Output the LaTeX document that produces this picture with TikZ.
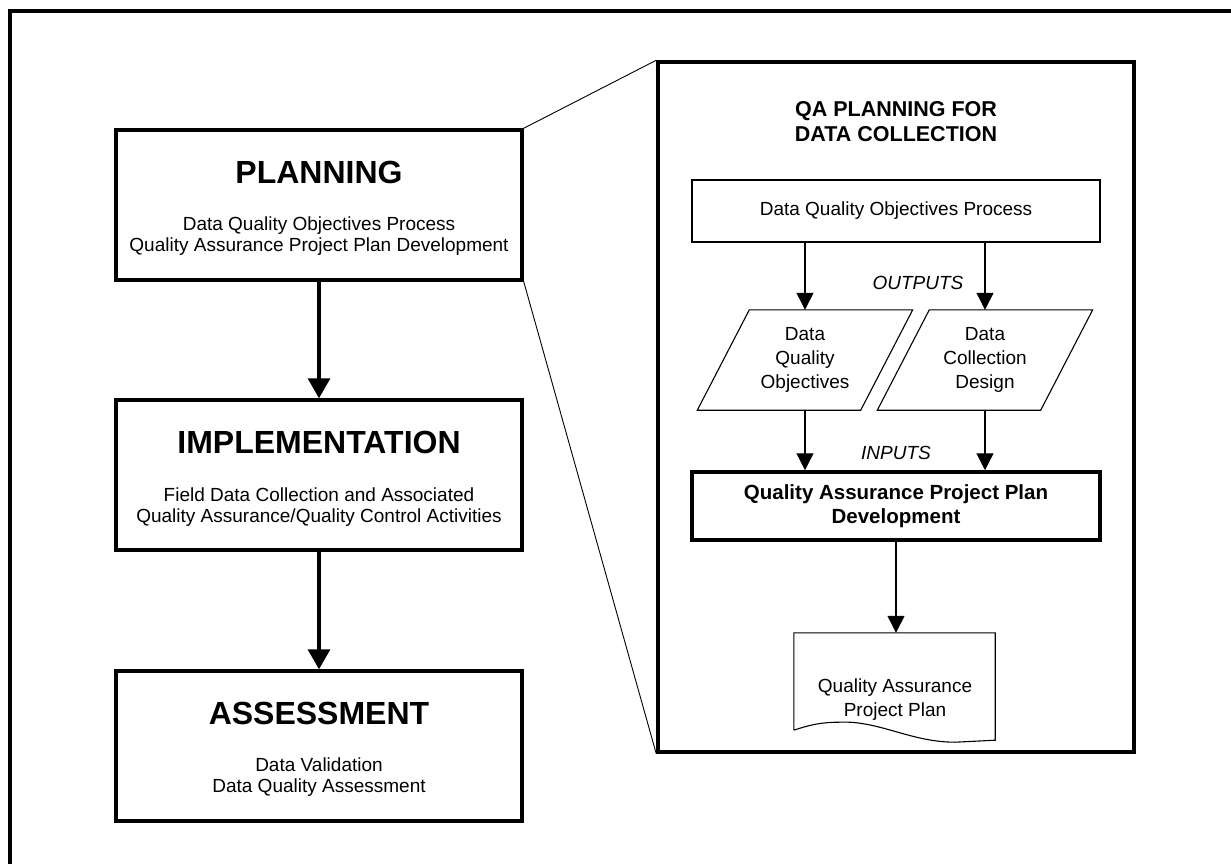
\documentclass[tikz,border=0pt]{standalone}
\usepackage{fontspec}
\setmainfont{Liberation Sans}
\usetikzlibrary{arrows.meta,calc}
\begin{document}
\begin{tikzpicture}[x=1pt,y=-1pt,
  phasebox/.style={draw, line width=3.5pt, minimum width=406pt, minimum height=150pt, inner sep=0pt},
  phasetitle/.style={font=\bfseries\fontsize{32}{36}\selectfont, inner sep=0pt},
  phasetext/.style={align=center, font=\fontsize{19}{20.5}\selectfont, inner sep=0pt},
  bigarrow/.style={line width=3.5pt, -{Triangle[width=22pt,length=20pt]}},
  thinarrow/.style={line width=1.2pt, -{Triangle[width=17pt,length=17pt]}},
  plaintext/.style={align=center, font=\fontsize{19}{24}\selectfont, inner sep=0pt},
  boldtext/.style={align=center, font=\bfseries\fontsize{20.5}{24}\selectfont, inner sep=0pt},
  titletext/.style={align=center, font=\bfseries\fontsize{21.5}{25}\selectfont, inner sep=0pt},
  tag/.style={font=\itshape\fontsize{19}{22}\selectfont, inner sep=0pt},
  zoomline/.style={line width=0.9pt},
  outline/.style={line width=1.1pt}
]
\useasboundingbox (0,0) rectangle (1231,864);

% outer frame (only top and left edges fall inside the page)
\draw[line width=3.5pt] (10,866) -- (10,11) -- (1233,11);

% ---- left column: the three project phases ----
\node[phasebox] (plan) at (319,205) {};
\node[phasetitle] (plant) at (319,172) {PLANNING};
\node[phasetext] (plans) at (319,236) {Data Quality Objectives Process\\Quality Assurance Project Plan Development};

\node[phasebox] (impl) at (319,475) {};
\node[phasetitle] (implt) at (319,442) {IMPLEMENTATION};
\node[phasetext] (impls) at (319,507) {Field Data Collection and Associated\\Quality Assurance/Quality Control Activities};

\node[phasebox] (assm) at (319,746) {};
\node[phasetitle] (assmt) at (319,713) {ASSESSMENT};
\node[phasetext] (assms) at (319,777) {Data Validation\\Data Quality Assessment};

\draw[bigarrow] (plan.south) -- (impl.north);
\draw[bigarrow] (impl.south) -- (assm.north);

% ---- right panel: detail of the planning phase ----
\node[draw, line width=3.5pt, minimum width=476pt, minimum height=690pt, inner sep=0pt] (panel) at (896,407) {};
\draw[zoomline] (plan.north east) -- (panel.north west);
\draw[zoomline] (plan.south east) -- (panel.south west);

\node[titletext] (ptitle) at (896,122) {QA PLANNING FOR\\DATA COLLECTION};

\node[draw, outline, minimum width=408pt, minimum height=62pt, plaintext] (dqop) at (896,211) {Data Quality Objectives Process};

% output parallelograms
\node[plaintext, minimum width=163pt, minimum height=100pt] (pq) at (805,360) {Data\\Quality\\Objectives};
\node[plaintext, minimum width=163pt, minimum height=100pt] (pd) at (985,360) {Data\\Collection\\Design};
\foreach \p in {pq,pd}{
  \draw[outline] ($(\p.north west)+(26,0)$) -- ($(\p.north east)+(26,0)$)
    -- ($(\p.south east)+(-26,0)$) -- ($(\p.south west)+(-26,0)$) -- cycle;
}
\node[tag] (outs) at (918,283) {OUTPUTS};

\draw[thinarrow] (dqop.south -| pq) -- (pq.north);
\draw[thinarrow] (dqop.south -| pd) -- (pd.north);

\node[draw, line width=3.5pt, minimum width=408pt, minimum height=68pt, boldtext] (qapp) at (896,506) {Quality Assurance Project Plan\\Development};
\node[tag] (ins) at (896,453) {INPUTS};

\draw[thinarrow] (pq.south) -- (pq.south |- qapp.north);
\draw[thinarrow] (pd.south) -- (pd.south |- qapp.north);

% document symbol
\node[minimum width=201pt, minimum height=109pt, inner sep=0pt] (doc) at (894.5,687.5) {};
\draw[outline] ($(doc.south west)+(0,-12)$) -- (doc.north west) -- (doc.north east) -- ($(doc.south east)+(0,-2)$)
  -- ($(doc.south east)+(-40,0)$)
  .. controls ($(doc.south east)+(-85,0)$) and ($(doc.south west)+(85,-22)$) .. ($(doc.south west)+(45,-20)$)
  .. controls ($(doc.south west)+(25,-20)$) and ($(doc.south west)+(12,-16)$) .. ($(doc.south west)+(0,-12)$);
\node[plaintext] (doct) at (895,700) {Quality Assurance\\Project Plan};

\draw[thinarrow] (qapp.south) -- (qapp.south |- doc.north);
\end{tikzpicture}
\end{document}
